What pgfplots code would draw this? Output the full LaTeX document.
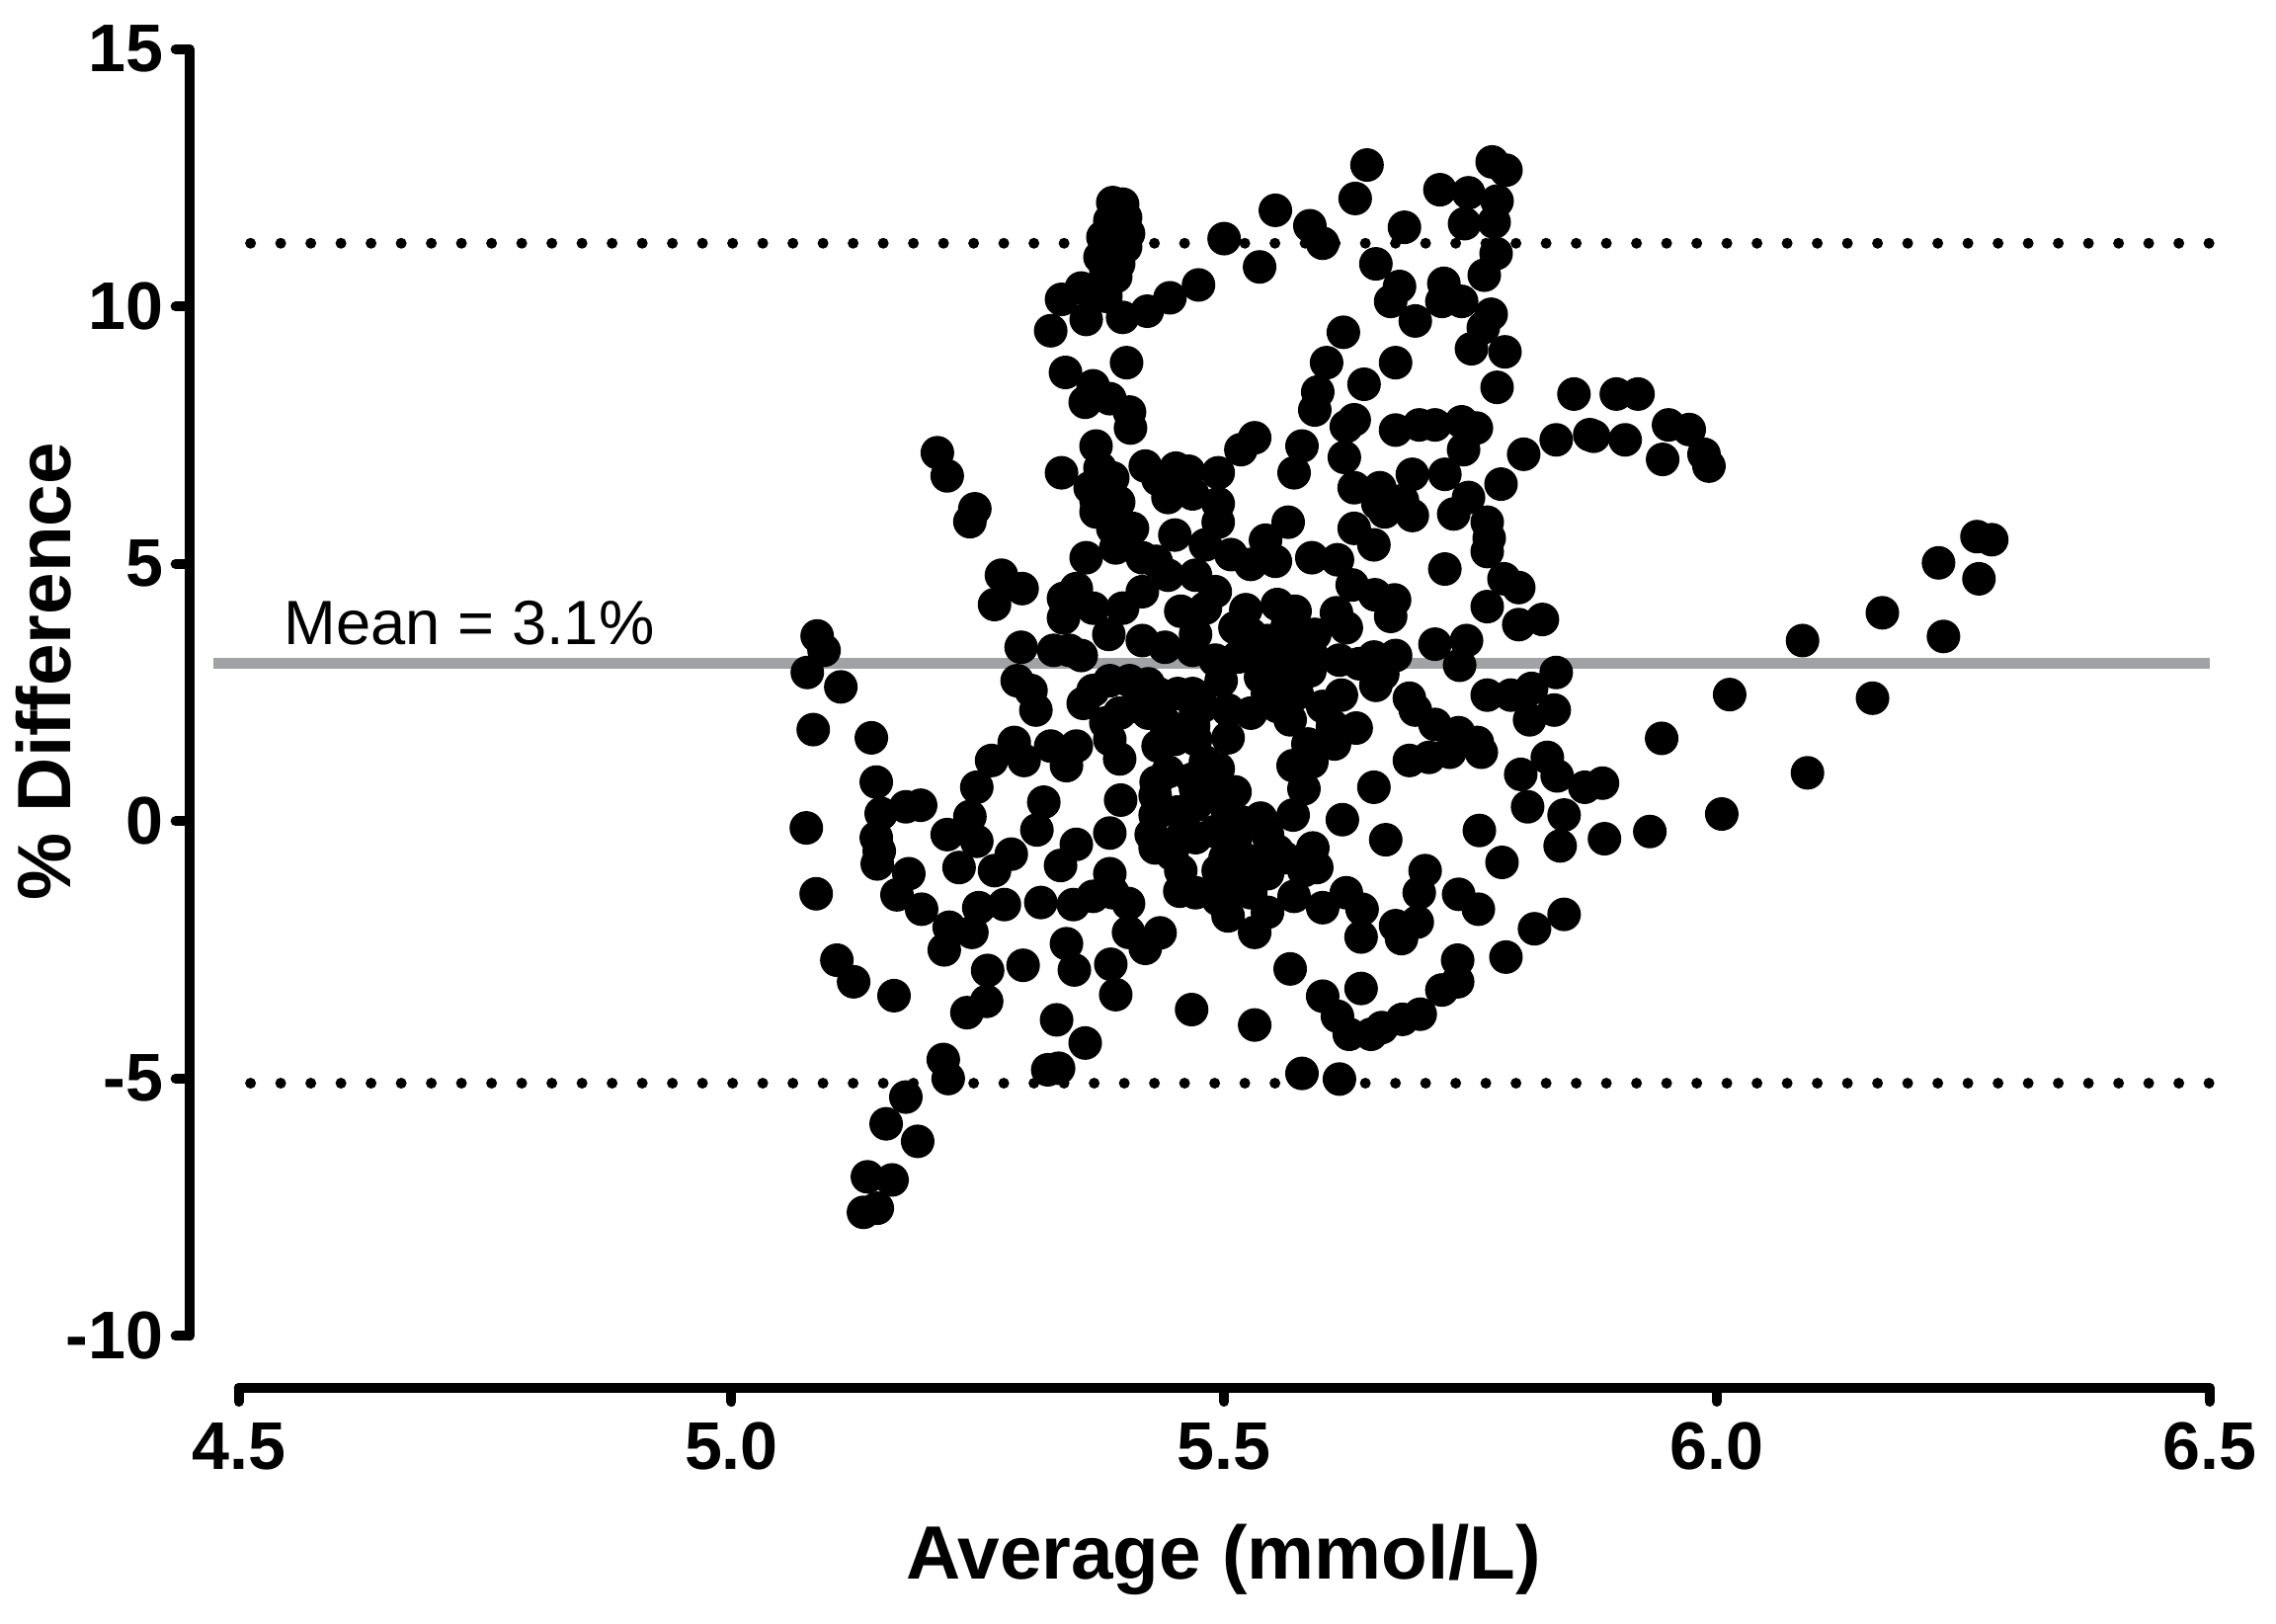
\documentclass[border=0pt]{standalone}
\usepackage{fontspec}
\setmainfont{Liberation Sans}
\usepackage{pgfplots}
\pgfplotsset{compat=1.18}
\definecolor{meangray}{RGB}{161,162,166}
\pgfplotstableread{
x y
5.387 12.02
5.400 11.73
5.403 11.42
5.377 11.35
5.400 11.16
5.374 10.96
5.393 10.83
5.390 10.58
5.367 10.26
5.380 10.20
5.335 10.14
5.355 10.36
5.324 9.53
5.360 9.75
5.397 9.79
5.422 9.91
5.445 10.17
5.339 8.72
5.401 8.91
5.367 8.46
5.359 8.14
5.404 7.95
5.405 7.64
5.370 7.29
5.335 6.77
5.387 6.67
5.420 6.90
5.433 6.64
5.451 6.86
5.370 6.23
5.393 6.20
5.209 7.16
5.219 6.71
5.247 6.07
5.384 11.67
5.397 11.99
5.380 10.71
5.384 8.21
5.374 6.86
5.364 6.48
5.443 6.29
5.645 12.75
5.633 12.10
5.552 11.87
5.587 11.57
5.600 11.23
5.500 11.32
5.536 10.77
5.474 10.42
5.683 11.54
5.654 10.83
5.678 10.39
5.669 10.10
5.694 9.72
5.719 12.27
5.748 12.21
5.772 12.81
5.786 12.65
5.777 12.05
5.744 11.61
5.774 11.64
5.776 11.03
5.764 10.61
5.723 10.45
5.721 10.10
5.741 10.10
5.771 9.85
5.763 9.59
5.751 9.18
5.785 9.12
5.621 9.50
5.604 8.91
5.642 8.49
5.674 8.91
5.595 8.34
5.592 7.99
5.624 7.67
5.632 7.80
5.579 7.29
5.571 6.77
5.531 7.45
5.517 7.22
5.494 6.77
5.464 6.80
5.468 6.36
5.622 7.07
5.632 6.48
5.658 6.48
5.674 7.60
5.698 7.70
5.714 7.70
5.741 7.76
5.756 7.64
5.743 7.22
5.691 6.74
5.724 6.74
5.781 6.55
5.804 7.13
5.837 7.41
5.871 7.51
5.777 8.43
5.855 8.30
5.748 6.29
5.681 6.23
5.656 6.17
5.494 6.17
5.898 8.30
5.920 8.30
5.875 7.48
5.907 7.41
5.951 7.70
5.972 7.61
5.987 7.13
5.945 7.03
5.992 6.90
6.264 5.53
6.279 5.47
6.225 5.02
6.266 4.71
6.168 4.05
6.230 3.59
6.087 3.51
6.013 2.46
6.158 2.39
5.944 1.61
6.092 0.94
5.866 0.66
5.884 0.74
6.005 0.14
5.886 -0.34
5.932 -0.20
5.494 5.81
5.565 5.81
5.663 6.01
5.691 5.94
5.733 5.97
5.767 5.81
5.767 5.24
5.769 5.50
5.632 5.69
5.652 5.37
5.542 5.46
5.552 5.05
5.527 4.99
5.507 5.18
5.481 5.37
5.589 5.12
5.615 5.08
5.724 4.90
5.784 4.71
5.799 4.54
5.767 4.17
5.799 3.82
5.823 3.92
5.630 4.59
5.653 4.40
5.673 4.30
5.669 3.98
5.522 4.11
5.511 3.76
5.572 4.08
5.614 4.05
5.624 3.76
5.564 3.79
5.592 3.63
5.468 3.32
5.491 3.13
5.514 3.19
5.541 3.19
5.567 3.32
5.590 3.19
5.617 3.13
5.652 3.19
5.674 3.22
5.714 3.44
5.746 3.51
5.739 3.03
5.468 2.48
5.497 2.73
5.537 2.80
5.561 2.86
5.587 2.92
5.619 2.45
5.654 2.64
5.688 2.39
5.694 2.16
5.504 2.16
5.527 2.10
5.567 1.97
5.469 1.85
5.504 1.62
5.610 1.85
5.634 1.81
5.585 1.50
5.612 1.50
5.589 1.15
5.714 1.88
5.738 1.72
5.757 1.53
5.761 1.34
5.688 1.18
5.708 1.24
5.729 1.34
5.767 2.45
5.791 2.45
5.812 2.58
5.837 2.89
5.810 1.97
5.835 2.16
5.494 1.02
5.581 0.63
5.652 0.66
5.620 0.03
5.664 -0.36
5.759 -0.18
5.782 -0.80
5.828 1.24
5.801 0.91
5.838 0.88
5.808 0.28
5.845 0.12
5.841 -0.48
5.471 0.31
5.501 0.31
5.537 0.06
5.570 0.12
5.590 -0.52
5.501 -0.71
5.527 -0.77
5.561 -0.71
5.594 -0.90
5.471 -0.32
5.468 0.82
5.704 -0.96
5.491 -0.20
5.511 -0.39
5.544 -0.26
5.517 -0.01
5.554 -0.58
5.494 -0.96
5.581 -0.96
5.544 -1.02
5.521 -1.08
5.471 4.78
5.481 4.14
5.491 4.46
5.471 3.63
5.527 3.63
5.544 3.51
5.554 4.21
5.478 2.23
5.544 2.48
5.554 2.23
5.574 2.48
5.600 2.23
5.637 3.06
5.661 2.86
5.471 2.10
5.471 1.59
5.481 1.15
5.471 0.63
5.491 0.57
5.511 0.57
5.570 1.08
5.242 5.82
5.274 4.78
5.295 4.52
5.267 4.21
5.087 3.60
5.094 3.32
5.077 2.89
5.111 2.61
5.083 1.78
5.142 1.62
5.147 0.76
5.076 -0.13
5.152 0.15
5.177 0.28
5.192 0.31
5.147 -0.32
5.148 -0.83
5.180 -1.02
5.219 -0.26
5.242 0.09
5.249 -0.39
5.231 -0.90
5.284 -0.64
5.267 -0.96
5.249 0.66
5.264 1.18
5.287 1.53
5.297 1.18
5.317 0.37
5.310 -0.17
5.334 -0.86
5.350 -0.45
5.384 -0.23
5.395 0.41
5.384 -1.02
5.431 0.76
5.430 0.12
5.430 -0.52
5.447 -0.64
5.290 2.73
5.309 2.16
5.304 2.54
5.294 3.38
5.327 3.32
5.355 3.22
5.337 4.33
5.350 4.52
5.360 5.12
5.387 5.69
5.370 6.01
5.390 5.31
5.431 5.05
5.450 5.56
5.456 4.08
5.337 3.95
5.367 4.14
5.397 4.14
5.383 3.63
5.417 3.51
5.440 3.38
5.384 2.73
5.404 2.73
5.423 2.67
5.423 2.10
5.357 2.29
5.380 1.91
5.384 1.59
5.394 1.21
5.350 1.46
5.324 1.46
5.340 1.08
5.394 2.10
5.450 1.59
5.433 1.46
5.453 2.48
5.456 -0.96
5.417 4.46
5.443 4.78
5.417 5.12
5.407 5.69
5.343 3.32
5.367 2.54
5.410 2.23
5.433 2.48
5.440 1.91
5.443 0.96
5.430 0.50
5.426 -0.26
5.453 0.18
5.456 -0.32
5.150 -0.58
5.086 -1.41
5.107 -2.70
5.124 -3.12
5.165 -3.39
5.138 -6.91
5.163 -6.97
5.134 -7.60
5.148 -7.52
5.157 -5.88
5.189 -6.22
5.177 -5.36
5.215 -4.63
5.220 -5.00
5.321 -4.83
5.332 -4.80
5.359 -4.31
5.330 -3.86
5.239 -3.72
5.259 -3.50
5.296 -2.80
5.260 -2.90
5.216 -2.50
5.221 -2.06
5.244 -2.16
5.193 -1.71
5.168 -1.43
5.340 -2.38
5.348 -2.89
5.385 -2.78
5.390 -3.37
5.403 -2.16
5.435 -2.17
5.420 -2.47
5.403 -1.60
5.251 -1.68
5.277 -1.62
5.314 -1.58
5.347 -1.62
5.367 -1.46
5.387 -1.39
5.467 -3.66
5.455 -1.36
5.471 -1.39
5.494 -1.52
5.527 -1.39
5.531 -2.16
5.571 -1.46
5.600 -1.68
5.624 -1.39
5.640 -1.71
5.639 -2.25
5.674 -2.03
5.680 -2.28
5.696 -1.96
5.698 -1.39
5.738 -1.42
5.758 -1.71
5.815 -2.09
5.845 -1.81
5.786 -2.64
5.737 -2.70
5.737 -3.12
5.721 -3.28
5.699 -3.75
5.681 -3.85
5.660 -4.01
5.649 -4.14
5.627 -4.14
5.615 -3.79
5.600 -3.40
5.639 -3.25
5.567 -2.87
5.531 -3.96
5.579 -4.90
5.617 -5.01
5.504 -1.84
5.544 -1.77
5.517 -1.27
}\pts
\begin{document}
\begin{tikzpicture}
\path[use as bounding box] (-32.59pt,-40.46pt) rectangle (359.09pt,238.85pt);
\begin{axis}[
  at={(0,0)}, anchor=south west,
  scale only axis, width=347.65pt, height=230.38pt,
  xmin=4.4499, xmax=6.5, ymin=-11.0115, ymax=15,
  axis lines=left,
  axis line style={-, line width=1.7pt, line cap=round, black},
  x axis line style={shorten <=8.5pt},
  y axis line style={shorten <=8.96pt},
  tick align=outside,
  major tick length=2.38pt,
  major tick style={line width=1.7pt, line cap=round, black},
  xtick={4.5,5,5.5,6,6.5}, xticklabels={4.5,5.0,5.5,6.0,6.5},
  ytick={-10,-5,0,5,10,15}, yticklabels={-10,-5,0,5,10,15},
  minor tick num=0,
  tick label style={font=\fontsize{11.6}{13}\selectfont\bfseries},
  xticklabel style={anchor=base, inner sep=0pt, yshift=-11.72pt},
  yticklabel style={anchor=east, inner sep=0pt, xshift=-1.87pt},
  xlabel={Average (mmol/L)}, ylabel={\% Difference},
  label style={font=\fontsize{13}{15}\selectfont\bfseries},
  xlabel style={at={(rel axis cs:0.512,0)}, anchor=base, yshift=-32.93pt},
  ylabel style={at={(rel axis cs:-0.0722,0.5353)}, anchor=center},
  clip=false,
]
\addplot[meangray, line width=1.8pt] coordinates {(4.474,3.07) (6.5,3.07)};
\addplot[black, line width=1.87pt, line cap=round, dash pattern=on 0pt off 5.185pt] coordinates {(4.512,11.23) (6.5,11.23)};
\addplot[black, line width=1.87pt, line cap=round, dash pattern=on 0pt off 5.185pt] coordinates {(4.512,-5.09) (6.5,-5.09)};
\addplot[only marks, mark=*, mark size=2.69pt, mark options={draw=none, fill=black}] table {\pts};
\node[anchor=base west, inner sep=0pt, font=\fontsize{10.76}{13}\selectfont] at (axis cs:4.545,3.43) {Mean = 3.1\%};
\end{axis}
\end{tikzpicture}
\end{document}
